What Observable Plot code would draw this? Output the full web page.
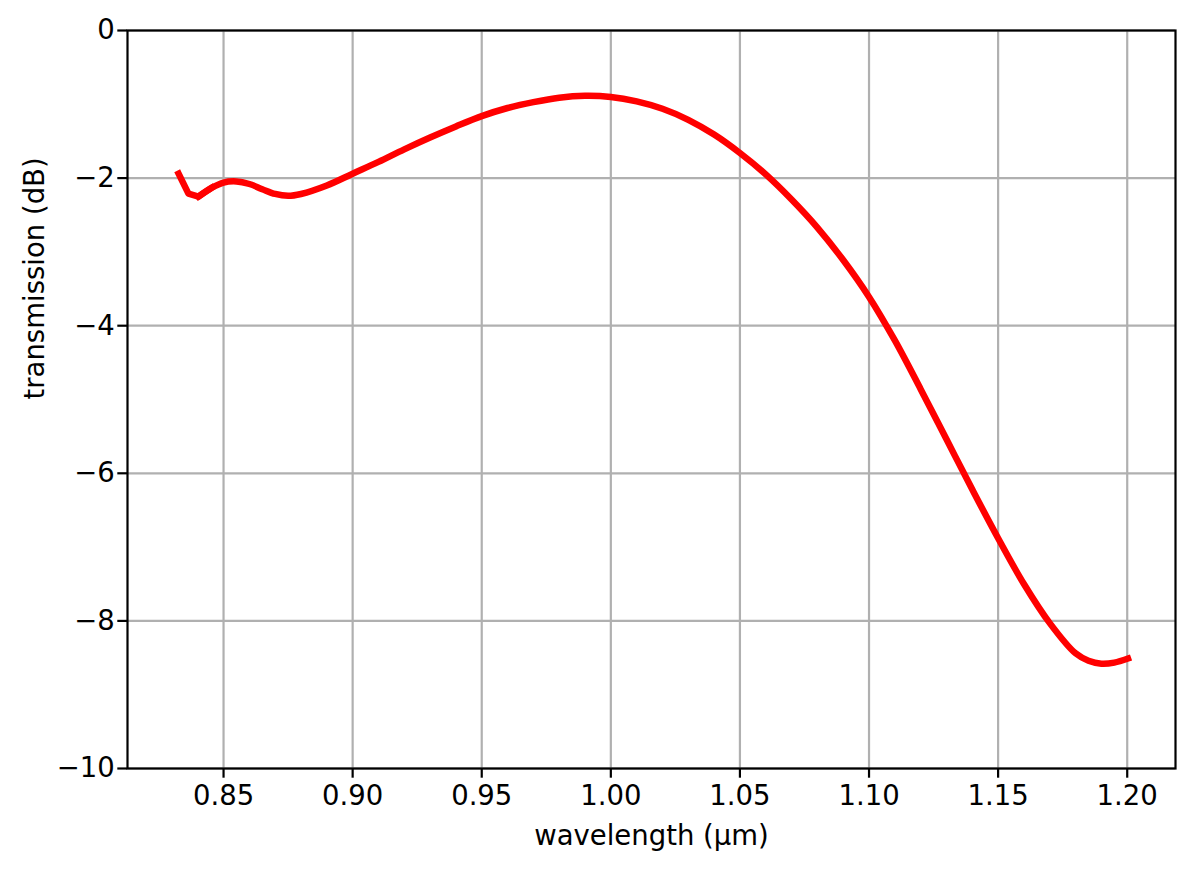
<!DOCTYPE html>
<html>
<head>
<meta charset="utf-8">
<script src="https://cdn.jsdelivr.net/npm/d3@7"></script>
<script src="https://cdn.jsdelivr.net/npm/@observablehq/plot@0.6"></script>
<style>
  html, body { margin: 0; padding: 0; background: #fff; }
  #chart { width: 1193px; height: 871px; }
</style>
</head>
<body>
<div id="chart"></div>
<script>
// Wavelength (µm) and transmission (dB)
const wavelength = [
  0.8326, 0.8364, 0.8403, 0.8455, 0.850, 0.855, 0.860, 0.865, 0.870, 0.875,
  0.880, 0.890, 0.900, 0.910, 0.920, 0.930, 0.940, 0.950, 0.960, 0.970,
  0.980, 0.990, 1.000, 1.010, 1.020, 1.030, 1.040, 1.050, 1.060, 1.070,
  1.080, 1.090, 1.100, 1.110, 1.120, 1.130, 1.140, 1.150, 1.160, 1.170,
  1.180, 1.185, 1.190, 1.195, 1.2003
];
const transmission = [
  -1.94, -2.21, -2.25, -2.13, -2.06, -2.045, -2.08, -2.15, -2.215, -2.24,
  -2.215, -2.10, -1.94, -1.78, -1.61, -1.45, -1.30, -1.16, -1.05, -0.97,
  -0.91, -0.885, -0.90, -0.96, -1.06, -1.21, -1.41, -1.66, -1.95, -2.29,
  -2.67, -3.11, -3.61, -4.20, -4.86, -5.54, -6.22, -6.88, -7.50, -8.03,
  -8.44, -8.54, -8.58, -8.565, -8.51
];
const xTicks = [0.85, 0.90, 0.95, 1.00, 1.05, 1.10, 1.15, 1.20];
const yTicks = [-10, -8, -6, -4, -2, 0];
const xLabel = "wavelength (µm)";
const yLabel = "transmission (dB)";

const data = wavelength.map((w, i) => ({w, t: transmission[i]}));
const head = data.slice(0, 4);   // sharp kink at the start, drawn straight
const rest = data.slice(2);
const font = "DejaVu Sans, Liberation Sans, sans-serif";
const fs = 27.5;
const minus = d => d < 0 ? "\u2212" + Math.abs(d) : String(d);
const lineStyle = {x: "w", y: "t", stroke: "red", strokeWidth: 6.5, strokeLinejoin: "round"};

const chart = Plot.plot({
  width: 1193,
  height: 871,
  marginLeft: 127,
  marginRight: 18,
  marginTop: 30,
  marginBottom: 103,
  style: {fontFamily: font, fontSize: fs + "px", background: "#fff", color: "#000"},
  x: {domain: [0.8128, 1.2187]},
  y: {domain: [-10, 0]},
  marks: [
    Plot.gridX(xTicks, {stroke: "#b0b0b0", strokeOpacity: 1, strokeWidth: 2.2}),
    Plot.gridY(yTicks, {stroke: "#b0b0b0", strokeOpacity: 1, strokeWidth: 2.2}),
    Plot.line(head, {...lineStyle, curve: "linear", strokeLinecap: "square"}),
    Plot.line(rest, {...lineStyle, curve: "catmull-rom", strokeLinecap: "square"}),
    Plot.frame({stroke: "#000", strokeWidth: 2.2}),
    Plot.axisX(xTicks, {tickFormat: d3.format(".2f"), tickSize: 9.7, tickPadding: 7, strokeWidth: 2.2, stroke: "#000", fontSize: fs, label: null, fill: "#000"}),
    Plot.axisY(yTicks, {tickFormat: minus, tickSize: 9.7, tickPadding: 3, strokeWidth: 2.2, stroke: "#000", fontSize: fs, label: null, fill: "#000"}),
    Plot.text([xLabel], {frameAnchor: "bottom", dy: 68, text: d => d, fontSize: fs, lineAnchor: "middle", fill: "#000"}),
    Plot.text([yLabel], {frameAnchor: "left", dx: -92, text: d => d, fontSize: fs, rotate: -90, lineAnchor: "middle", fill: "#000"})
  ]
});
document.getElementById("chart").appendChild(chart);
</script>
</body>
</html>
